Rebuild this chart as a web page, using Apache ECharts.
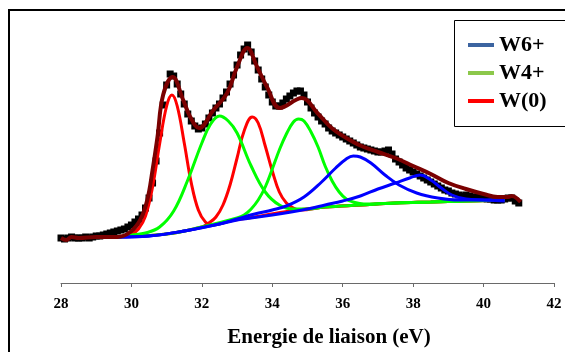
<!DOCTYPE html>
<html>
<head>
<meta charset="utf-8">
<script src="https://cdn.jsdelivr.net/npm/echarts@6/dist/echarts.min.js"></script>
<style>
  html, body { margin: 0; padding: 0; background: #fff; }
  #main { width: 565px; height: 352px; }
</style>
</head>
<body>
<div id="main"></div>
<script>
// spectre XPS W4f : points mesures + decomposition
let myChart = echarts.init(document.getElementById('main'));

let xTicks = [28, 30, 32, 34, 36, 38, 40, 42];

// points experimentaux, pas de 0.1 eV a partir de 28 eV
let expStart = 28.0;
let expStep = 0.1;
let expCounts = [
  45, 44, 45, 46, 45, 45, 45, 46, 45, 46,
  47, 47, 48, 49, 50, 51, 52, 53, 54, 56,
  58, 61, 64, 68, 75, 85, 100, 122, 150, 178,
  198, 209, 207, 199, 189, 179, 169, 162, 157, 154,
  155, 159, 165, 170, 175, 179, 185, 191, 199, 208,
  218, 228, 234, 238, 231, 222, 213, 204, 196, 188,
  181, 177, 177, 180, 184, 187, 190, 192, 192, 188,
  181, 175, 170, 166, 162, 159, 155, 152, 150, 148,
  146, 144, 142, 140, 138, 136, 135, 134, 133, 132,
  131, 131, 132, 133, 129, 124, 121, 118, 115, 113,
  111, 109, 107, 105, 103, 101, 99, 97, 95, 93,
  92, 90, 89, 88, 87, 88, 87, 86, 86, 85,
  85, 84, 84, 83, 83, 83, 84, 85, 85, 82,
  80
];

// enveloppe (somme ajustee)
let envelope = [
  [28.0, 45], [28.15, 43], [28.3, 46], [28.5, 45], [29.0, 46], [29.6, 46],
  [29.97, 51], [30.25, 63], [30.45, 83], [30.6, 113], [30.74, 146], [30.9, 188],
  [31.17, 206], [31.47, 183], [31.67, 166], [31.92, 155], [32.33, 173], [32.72, 190],
  [33.0, 216], [33.29, 235], [33.57, 216], [33.85, 196], [34.22, 175], [34.84, 185],
  [35.28, 170], [35.72, 154], [36.3, 141], [36.6, 136], [37.0, 131], [37.5, 125],
  [38.0, 117], [38.5, 109], [39.0, 100], [39.5, 94], [40.0, 89], [40.4, 86],
  [40.7, 86], [40.8, 87], [41.05, 81]
];

// W(0)
let redPeak1 = [
  [29.6, 46], [30.0, 49], [30.2, 54], [30.4, 67], [30.6, 96], [30.8, 139],
  [31.0, 177], [31.15, 188], [31.3, 177], [31.5, 140], [31.7, 100], [31.9, 73],
  [32.1, 61], [32.3, 58], [32.8, 62], [33.5, 66], [34.5, 72], [35.5, 76],
  [36.5, 78], [37.5, 80], [38.5, 81], [39.5, 82], [40.6, 83]
];
let redPeak2 = [
  [29.6, 46], [31.0, 49], [32.0, 56], [32.2, 60], [32.4, 66], [32.6, 78],
  [32.8, 98], [33.0, 125], [33.2, 152], [33.43, 166], [33.6, 160], [33.8, 137],
  [34.0, 112], [34.2, 91], [34.4, 80], [34.6, 75], [34.8, 73], [35.5, 76],
  [36.5, 78], [37.5, 80], [38.5, 81], [39.5, 82], [40.6, 83]
];

// W4+
let greenPeak1 = [
  [29.6, 46], [30.0, 48], [30.4, 50], [30.8, 56], [31.2, 72], [31.6, 103],
  [32.0, 140], [32.25, 159], [32.5, 167], [32.75, 162], [33.0, 150], [33.4, 117],
  [33.8, 91], [34.2, 78], [34.6, 74], [35.0, 74], [35.5, 76], [36.5, 78],
  [37.5, 80], [38.5, 81], [39.5, 82], [40.6, 83]
];
let greenPeak2 = [
  [29.6, 46], [31.0, 49], [32.0, 56], [33.0, 65], [33.2, 68], [33.4, 74],
  [33.6, 83], [33.8, 96], [34.0, 114], [34.2, 133], [34.4, 149], [34.6, 161],
  [34.75, 164], [34.9, 162], [35.1, 151], [35.3, 136], [35.5, 117], [35.7, 102],
  [35.9, 91], [36.1, 84], [36.3, 81], [36.6, 79], [37.5, 80], [38.5, 81],
  [39.5, 82], [40.6, 83]
];

// W6+
let bluePeak1 = [
  [29.6, 46], [30.5, 47], [31.5, 52], [32.5, 59], [33.0, 64], [33.5, 69],
  [34.0, 73], [34.4, 77], [34.9, 86], [35.4, 101], [35.8, 115], [36.1, 124],
  [36.3, 127], [36.5, 126], [36.8, 120], [37.2, 108], [37.6, 98], [38.1, 90],
  [38.7, 85], [39.3, 83], [40.0, 83], [40.6, 83]
];
let bluePeak2 = [
  [29.6, 46], [30.5, 47], [31.5, 52], [32.5, 59], [33.0, 63], [34.0, 68],
  [35.0, 74], [35.5, 78], [36.0, 82], [36.5, 87], [37.0, 94], [37.5, 100],
  [37.9, 105], [38.2, 108], [38.5, 103], [38.8, 95], [39.1, 88], [39.5, 84],
  [40.0, 83], [40.6, 82]
];

let expData = expCounts.map((v, i) => [+(expStart + i * expStep).toFixed(2), v]);

let serif = 'Liberation Serif';

function peakSeries(name, data, color) {
  return {
    name: name,
    type: 'line',
    data: data,
    smooth: 0.4,
    showSymbol: false,
    lineStyle: { color: color, width: 3 },
    itemStyle: { color: color }
  };
}

let option = {
  animation: false,
  grid: { left: 61, right: 11, top: 10, bottom: 69 },
  legend: {
    orient: 'vertical',
    left: 454,
    top: 20,
    padding: [14, 10, 15, 14],
    icon: 'rect',
    itemWidth: 26,
    itemHeight: 4,
    itemGap: 6,
    selectedMode: false,
    textStyle: { fontFamily: serif, fontWeight: 'bold', fontSize: 22, lineHeight: 22, color: '#000' },
    data: [
      { name: 'W6+', itemStyle: { color: '#3c64a0' } },
      { name: 'W4+', itemStyle: { color: '#8cc84b' } },
      { name: 'W(0)', itemStyle: { color: '#ff0000' } }
    ]
  },
  xAxis: {
    type: 'value',
    min: 28,
    max: 42,
    interval: 2,
    splitLine: { show: false },
    axisLine: { lineStyle: { color: '#6a6a6a', width: 1 } },
    axisTick: { show: true, length: 4, lineStyle: { color: '#6a6a6a' } },
    axisLabel: {
      margin: 14,
      fontFamily: serif,
      fontWeight: 'bold',
      fontSize: 15,
      color: '#000',
      formatter: v => xTicks.indexOf(v) >= 0 ? String(v) : ''
    }
  },
  yAxis: {
    type: 'value',
    min: 0,
    max: 273,
    show: false
  },
  graphic: [
    {
      type: 'rect',
      shape: { x: 9, y: 10, width: 600, height: 400 },
      style: { fill: 'none', stroke: '#000', lineWidth: 2 },
      silent: true
    },
    {
      // cadre de la legende, qui deborde a droite
      type: 'rect',
      shape: { x: 454.5, y: 20.5, width: 130, height: 106 },
      style: { fill: 'none', stroke: '#000', lineWidth: 1 },
      silent: true
    },
    {
      type: 'text',
      x: 329,
      y: 338,
      style: {
        text: 'Energie de liaison (eV)',
        fontFamily: serif,
        fontWeight: 'bold',
        fontSize: 21,
        fill: '#000',
        align: 'center',
        verticalAlign: 'middle'
      }
    }
  ],
  series: [
    {
      name: 'mesure',
      type: 'scatter',
      data: expData,
      symbol: 'rect',
      symbolSize: 7,
      itemStyle: { color: '#000', opacity: 1 }
    },
    peakSeries('W(0)', redPeak1, '#ff0000'),
    peakSeries('W(0)', redPeak2, '#ff0000'),
    peakSeries('W4+', greenPeak1, '#00ff00'),
    peakSeries('W4+', greenPeak2, '#00ff00'),
    peakSeries('W6+', bluePeak1, '#0000ff'),
    peakSeries('W6+', bluePeak2, '#0000ff'),
    {
      name: 'enveloppe',
      type: 'line',
      data: envelope,
      smooth: 0.4,
      showSymbol: false,
      lineStyle: { color: '#7a0000', width: 4 }
    }
  ]
};

myChart.setOption(option);
</script>
</body>
</html>
